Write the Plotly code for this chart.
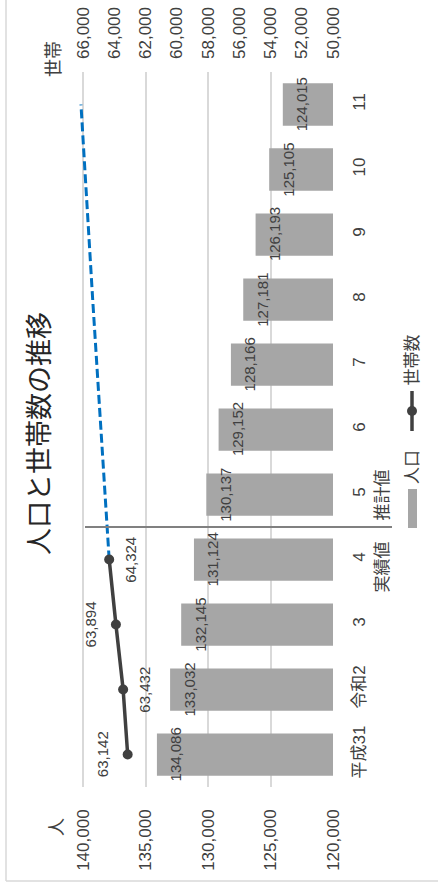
import plotly.graph_objects as go

# --- data ---------------------------------------------------------------
years = ["平成31", "令和2", "3", "4", "5", "6", "7", "8", "9", "10", "11"]
period_notes = {"4": "実績値", "5": "推計値"}
population = [134086, 133032, 132145, 131124, 130137, 129152,
              128166, 127181, 126193, 125105, 124015]
actual_years = ["平成31", "令和2", "3", "4"]
households_actual = [63142, 63432, 63894, 64324]
projected_years = ["4", "5", "6", "7", "8", "9", "10", "11"]
households_projected = [64324, 64600, 64870, 65130, 65380, 65630, 65880, 66130]
pop_ticks = [140000, 135000, 130000, 125000, 120000]
hh_ticks = [66000, 64000, 62000, 60000, 58000, 56000, 54000, 52000, 50000]

# --- page geometry (chart is laid out sideways) --------------------------
W, H = 438, 892
L, R, T, B = 78, 333, 72, 787          # plot-area edges in pixels
POP_RANGE = [140400, 120000]           # a little headroom past 140,000
HH_RANGE = [66320, 50000]              # matching headroom past 66,000


def px(x):
    return (x - L) / (R - L)


def py(y):
    return (B - y) / (B - T)


def idx(cat):
    return years.index(cat)


FONT = "Liberation Sans, Arial, Noto Sans CJK JP, sans-serif"
TXT = "#404040"
BAR = "#a6a6a6"
DARK = "#404040"
BLUE = "#0070c0"

fig = go.Figure()

fig.add_trace(go.Bar(
    orientation="h", x=population, y=years, width=0.65,
    marker=dict(color=BAR, line=dict(width=0)),
    showlegend=False, hoverinfo="x+y",
))

fig.add_trace(go.Scatter(
    x=households_projected, y=projected_years, xaxis="x2", mode="lines",
    line=dict(color=BLUE, width=3, dash="9px,4px"),
    showlegend=False,
))

fig.add_trace(go.Scatter(
    x=households_actual, y=actual_years, xaxis="x2", mode="lines+markers",
    line=dict(color=DARK, width=3.5),
    marker=dict(color=DARK, size=10),
    showlegend=False,
))

annotations = []

# population value labels, just inside the end of each bar
for yr, v in zip(years, population):
    annotations.append(dict(
        x=v, y=idx(yr), xref="x", yref="y", text=f"{v:,}", showarrow=False,
        textangle=-90, xanchor="center", yanchor="middle", xshift=19,
        font=dict(size=15, color=TXT, family=FONT),
    ))

# household value labels, alternating sides of the line
for i, (yr, v) in enumerate(zip(actual_years, households_actual)):
    annotations.append(dict(
        x=v, y=idx(yr), xref="x2", yref="y", text=f"{v:,}", showarrow=False,
        textangle=-90, xanchor="center", yanchor="middle",
        xshift=-25 if i % 2 == 0 else 21,
        font=dict(size=15, color=TXT, family=FONT),
    ))

# second line under the boundary years
for yr, note in period_notes.items():
    annotations.append(dict(
        x=px(382), y=idx(yr), xref="paper", yref="y", text=note, showarrow=False,
        textangle=-90, xanchor="center", yanchor="middle",
        yshift=-8 if note == "実績値" else -1,
        font=dict(size=17, color=TXT, family=FONT),
    ))

# title and axis names
annotations += [
    dict(x=px(40), y=py(434), xref="paper", yref="paper", text="人口と世帯数の推移",
         showarrow=False, textangle=-90, xanchor="center", yanchor="middle",
         font=dict(size=27, color="#262626", family=FONT)),
    dict(x=px(57), y=py(827), xref="paper", yref="paper", text="人",
         showarrow=False, textangle=-90, xanchor="center", yanchor="middle",
         font=dict(size=18, color=TXT, family=FONT)),
    dict(x=px(54), y=py(59), xref="paper", yref="paper", text="世帯",
         showarrow=False, textangle=-90, xanchor="center", yanchor="middle",
         font=dict(size=18, color=TXT, family=FONT)),
    # legend text
    dict(x=px(412), y=py(486), xref="paper", yref="paper", text="人口",
         showarrow=False, textangle=-90, xanchor="center", yanchor="bottom",
         font=dict(size=17, color=TXT, family=FONT)),
    dict(x=px(412), y=py(388), xref="paper", yref="paper", text="世帯数",
         showarrow=False, textangle=-90, xanchor="center", yanchor="bottom",
         font=dict(size=17, color=TXT, family=FONT)),
]

shapes = [
    # divider between actual and projected years
    dict(type="line", xref="paper", yref="y", x0=px(85), x1=px(392), y0=3.5, y1=3.5,
         line=dict(color="#808080", width=2)),
    # chart frame
    dict(type="line", xref="paper", yref="paper", x0=px(6), x1=px(6),
         y0=py(881), y1=py(-20), line=dict(color="#d9d9d9", width=1.5)),
    dict(type="line", xref="paper", yref="paper", x0=px(6), x1=px(460),
         y0=py(881), y1=py(881), line=dict(color="#d9d9d9", width=1.5)),
    # legend keys
    dict(type="rect", xref="paper", yref="paper", x0=px(408), x1=px(417),
         y0=py(528), y1=py(489), fillcolor=BAR, line=dict(width=0)),
    dict(type="line", xref="paper", yref="paper", x0=px(412), x1=px(412),
         y0=py(431), y1=py(391), line=dict(color=DARK, width=3.5)),
    dict(type="circle", xref="paper", yref="paper", x0=px(407), x1=px(417),
         y0=py(416), y1=py(406), fillcolor=DARK, line=dict(width=0)),
]

fig.update_layout(
    width=W, height=H,
    margin=dict(l=L, r=W - R, t=T, b=H - B, pad=0, autoexpand=False),
    paper_bgcolor="white", plot_bgcolor="white",
    font=dict(family=FONT, color=TXT),
    bargap=0.35,
    xaxis=dict(
        range=POP_RANGE, tickvals=pop_ticks, tickformat=",",
        tickangle=-90, showgrid=True, gridcolor="#d9d9d9", gridwidth=1.5,
        zeroline=False, showline=False, ticks="", ticklabelstandoff=18,
        automargin=False,
        tickfont=dict(size=17, color=TXT, family=FONT),
    ),
    xaxis2=dict(
        overlaying="x", side="top", anchor="y",
        range=HH_RANGE, tickvals=hh_ticks, tickformat=",",
        tickangle=-90, showgrid=False, zeroline=False, showline=False,
        ticks="", ticklabelstandoff=12, automargin=False,
        tickfont=dict(size=17, color=TXT, family=FONT),
    ),
    yaxis=dict(
        type="category", categoryorder="array", categoryarray=years,
        range=[-0.5, 10.5], side="right", showgrid=False,
        tickangle=-90, zeroline=False, showline=False, ticks="",
        ticklabelstandoff=14, automargin=False,
        tickfont=dict(size=17, color=TXT, family=FONT),
    ),
    annotations=annotations,
    shapes=shapes,
)

fig.write_html("out.html")
